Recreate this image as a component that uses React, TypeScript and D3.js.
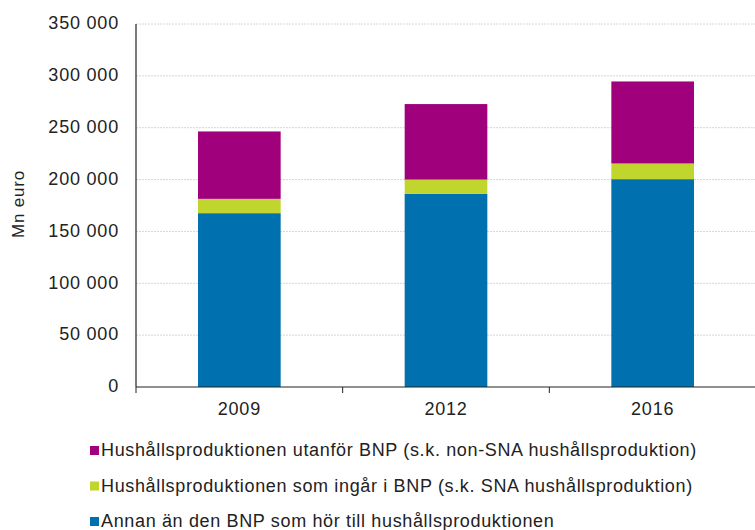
import React from "react";
import * as d3 from "d3";

// Årtal och serier (Mn euro)
const years = ["2009", "2012", "2016"];
const annan = [167600, 186200, 200400];
const sna = [13800, 13800, 15100];
const nonSna = [65000, 72800, 79100];

const seriesNames = [
  "Annan än den BNP som hör till hushållsproduktionen",
  "Hushållsproduktionen som ingår i BNP (s.k. SNA hushållsproduktion)",
  "Hushållsproduktionen utanför BNP (s.k. non-SNA hushållsproduktion)",
];
const seriesColors = ["#0071ae", "#c0d62f", "#a1007d"];
const yTicks = [0, 50000, 100000, 150000, 200000, 250000, 300000, 350000];

const W = 755,
  H = 530;
const left = 136,
  right = 756,
  top = 24,
  bottom = 387;

const fmt = (v: number) => d3.format(",")(v).replace(/,/g, " ");

export default function App() {
  const x = d3.scaleBand().domain(years).range([left, right]).paddingInner(0).paddingOuter(0);
  const y = d3.scaleLinear().domain([0, 350000]).range([bottom, top]);

  const rows = years.map((yr, i) => ({ year: yr, a: annan[i], s: sna[i], n: nonSna[i] }));
  const stacked = d3.stack<any>().keys(["a", "s", "n"])(rows);

  const barW = x.bandwidth() * 0.4;
  const font = "'Liberation Sans', Arial, sans-serif";

  // legend order: top = non-SNA
  const legendOrder = [2, 1, 0];

  return (
    <svg width={W} height={H} style={{ position: "absolute", left: 0, top: 0 }} fontFamily={font}>
      {yTicks.map((t) => (
        <g key={t}>
          {t > 0 && (
            <line x1={left} x2={right} y1={y(t)} y2={y(t)} stroke="#d6d6d6" strokeWidth={1} strokeDasharray="2,1" />
          )}
          <text x={119} y={y(t) - 1} dy="0.35em" textAnchor="end" fontSize={18} letterSpacing={0.8} fill="#222">
            {fmt(t)}
          </text>
        </g>
      ))}
      {stacked.map((s, si) =>
        s.map((d, i) => (
          <rect
            key={si + "-" + i}
            x={(x(years[i]) as number) + (x.bandwidth() - barW) / 2}
            width={barW}
            y={y(d[1])}
            height={y(d[0]) - y(d[1])}
            fill={seriesColors[si]}
          />
        ))
      )}
      <line x1={left} x2={left} y1={top} y2={bottom} stroke="#222" strokeWidth={1.2} />
      <line x1={left} x2={right} y1={bottom} y2={bottom} stroke="#222" strokeWidth={1.2} />
      {years.map((yr, i) => (
        <g key={yr}>
          <line x1={x(yr) as number} x2={x(yr) as number} y1={bottom} y2={bottom + 6} stroke="#222" />
          <text x={(x(yr) as number) + x.bandwidth() / 2} y={409} dy="0.35em" textAnchor="middle" fontSize={18} letterSpacing={0.8} fill="#222">
            {yr}
          </text>
        </g>
      ))}
      <text transform={`translate(24,${204}) rotate(-90)`} textAnchor="middle" fontSize={17} letterSpacing={0.8} fill="#222">
        Mn euro
      </text>
      {legendOrder.map((si, k) => (
        <g key={si} transform={`translate(90,${450 + k * 35.5})`}>
          <rect x={0} y={-4} width={9} height={9} fill={seriesColors[si]} />
          <text x={11} y={0} dy="0.35em" fontSize={18} letterSpacing={0.65} fill="#222">
            {seriesNames[si]}
          </text>
        </g>
      ))}
    </svg>
  );
}
